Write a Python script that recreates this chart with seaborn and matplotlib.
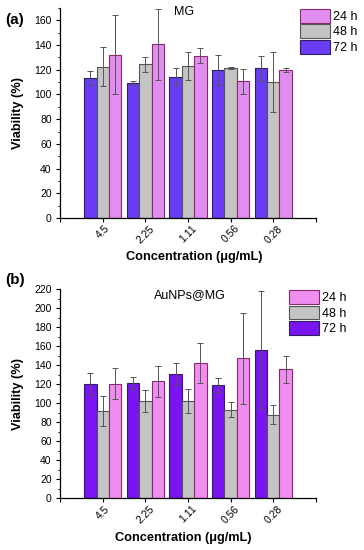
import numpy as np
import pandas as pd
import matplotlib
matplotlib.use('Agg')
import matplotlib.pyplot as plt
import seaborn as sns
from matplotlib.patches import Patch
from matplotlib.ticker import MultipleLocator

# concentrations (x categories) and incubation times (hue)
concentrations = ['4.5', '2.25', '1.11', '0.56', '0.28']
times = ['72 h', '48 h', '24 h']

# (a) MG - mean viability and SD
mg_72h = [113.5, 109.0, 114.5, 120.0, 121.0]
mg_72h_sd = [5.5, 1.5, 7.0, 12.0, 10.0]
mg_48h = [122.5, 124.5, 123.0, 121.5, 110.0]
mg_48h_sd = [16.0, 6.0, 11.5, 1.0, 24.5]
mg_24h = [132.0, 140.5, 131.5, 110.5, 120.0]
mg_24h_sd = [32.0, 29.0, 6.0, 10.0, 1.5]

# (b) AuNPs@MG - mean viability and SD
au_72h = [120.0, 121.5, 131.0, 119.0, 156.0]
au_72h_sd = [11.5, 6.5, 11.5, 7.5, 62.0]
au_48h = [92.0, 102.0, 102.0, 93.0, 88.0]
au_48h_sd = [16.0, 11.5, 12.5, 8.0, 10.0]
au_24h = [120.5, 123.0, 142.0, 147.0, 135.5]
au_24h_sd = [16.5, 16.0, 21.0, 48.0, 14.0]


def make_df(v72, s72, v48, s48, v24, s24):
    rows = []
    for t, vals, sds in zip(times, [v72, v48, v24], [s72, s48, s24]):
        for c, v, s in zip(concentrations, vals, sds):
            rows.append({'Concentration': c, 'Time': t, 'Viability': v, 'SD': s})
    return pd.DataFrame(rows)


df_mg = make_df(mg_72h, mg_72h_sd, mg_48h, mg_48h_sd, mg_24h, mg_24h_sd)
df_au = make_df(au_72h, au_72h_sd, au_48h, au_48h_sd, au_24h, au_24h_sd)

plt.rcParams['font.family'] = ['Liberation Sans', 'DejaVu Sans']

fig = plt.figure(figsize=(3.64, 5.5), dpi=100)
ax1 = fig.add_axes([0.165, 0.6036, 0.703, 0.382])
ax2 = fig.add_axes([0.165, 0.094, 0.703, 0.3805])

edges = {'72 h': '#2e1f5e', '48 h': '#555555', '24 h': '#8a2a6a'}


def draw_panel(ax, df, palette, title, title_xy, ymax, xlabel_xy, legend_xy):
    sns.barplot(data=df, x='Concentration', y='Viability', hue='Time',
                order=concentrations, hue_order=times, palette=palette,
                errorbar=None, width=0.87, gap=0, saturation=1,
                legend=False, ax=ax)
    # edges and error bars from the drawn bars
    for cont, t in zip(ax.containers, times):
        sub = df[df['Time'] == t].set_index('Concentration').loc[concentrations]
        xs = [p.get_x() + p.get_width() / 2 for p in cont.patches]
        for p in cont.patches:
            p.set_edgecolor(edges[t])
            p.set_linewidth(0.8)
        ax.errorbar(xs, sub['Viability'], yerr=sub['SD'], fmt='none',
                    ecolor='#555555', elinewidth=0.7, capsize=2.2,
                    capthick=0.7, zorder=3)

    ax.set_xlim(-1, 5)
    ax.set_xticks(range(-1, 6))
    ax.set_xticklabels([''] + concentrations + [''], rotation=45, fontsize=7.5)
    ax.set_ylim(0, ymax)
    ax.yaxis.set_major_locator(MultipleLocator(20))
    ax.yaxis.set_minor_locator(MultipleLocator(10))
    ax.tick_params(axis='y', labelsize=7.5, length=3, width=0.8, pad=3)
    ax.tick_params(axis='y', which='minor', length=1.8, width=0.7)
    ax.tick_params(axis='x', length=3, width=0.8, pad=1)
    sns.despine(ax=ax)
    for s in ['left', 'bottom']:
        ax.spines[s].set_linewidth(0.9)

    ax.set_ylabel('Viability (%)', fontsize=9.2, fontweight='bold')
    ax.yaxis.set_label_coords(-0.14, 0.5)
    ax.set_xlabel('Concentration (\u03bcg/mL)', fontsize=9.2, fontweight='bold')
    ax.xaxis.set_label_coords(*xlabel_xy)
    ax.text(title_xy[0], title_xy[1], title, transform=ax.transAxes,
            ha='center', va='center', fontsize=9)

    handles = [Patch(facecolor=palette[t], edgecolor=edges[t], linewidth=0.8)
               for t in times[::-1]]
    ax.legend(handles, times[::-1], loc='upper left', bbox_to_anchor=legend_xy,
              frameon=False, fontsize=9, handlelength=2.4, handleheight=1.3,
              labelspacing=0.12, handletextpad=0.25, borderpad=0,
              borderaxespad=0)


pal_a = {'72 h': '#6a3cf5', '48 h': '#c4c4c4', '24 h': '#e08ef0'}
pal_b = {'72 h': '#7a14f2', '48 h': '#c4c4c4', '24 h': '#f08ef0'}

draw_panel(ax1, df_mg, pal_a, 'MG', (0.484, 0.98), 170, (0.523, -0.157),
           (0.9375, 0.995))
draw_panel(ax2, df_au, pal_b, 'AuNPs@MG', (0.508, 0.971), 220, (0.482, -0.159),
           (0.895, 0.995))

fig.text(15 / 364, 1 - 20 / 550, '(a)', ha='center', va='center',
         fontsize=11, fontweight='bold')
fig.text(15 / 364, 1 - 280 / 550, '(b)', ha='center', va='center',
         fontsize=11, fontweight='bold')

fig.savefig('out.png', dpi=100)
